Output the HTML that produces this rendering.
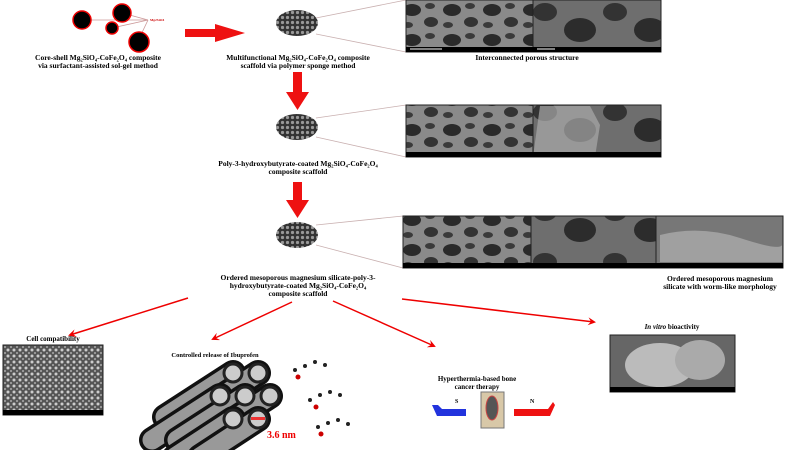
<!DOCTYPE html>
<html><head><meta charset="utf-8"><style>
html,body{margin:0;background:#fff;width:800px;height:450px;overflow:hidden}
svg{display:block}
text{font-family:"Liberation Serif",serif;font-weight:bold;fill:#000}
</style></head><body>
<svg width="800" height="450" viewBox="0 0 800 450" xmlns="http://www.w3.org/2000/svg">
<defs>
<pattern id="sem" width="40" height="30" patternUnits="userSpaceOnUse">
<rect width="40" height="30" fill="#8a8a8a"/>
<ellipse cx="12" cy="10" rx="9" ry="6" fill="#2a2a2a"/>
<ellipse cx="31" cy="22" rx="7" ry="5" fill="#333"/>
<ellipse cx="30" cy="6" rx="5" ry="3" fill="#3a3a3a"/>
<ellipse cx="8" cy="25" rx="5" ry="3" fill="#3a3a3a"/>
</pattern>
<pattern id="sem2" width="70" height="50" patternUnits="userSpaceOnUse">
<rect width="70" height="50" fill="#6e6e6e"/>
<ellipse cx="20" cy="30" rx="16" ry="12" fill="#2c2c2c"/>
<ellipse cx="55" cy="12" rx="12" ry="9" fill="#333"/>
</pattern>
<pattern id="cell" width="6" height="6" patternUnits="userSpaceOnUse">
<rect width="6" height="6" fill="#555"/><circle cx="2" cy="2" r="1.5" fill="#ccc"/><circle cx="5" cy="5" r="1" fill="#aaa"/>
</pattern>
<pattern id="ball" width="5" height="5" patternUnits="userSpaceOnUse">
<rect width="5" height="5" fill="#333"/><circle cx="2.5" cy="2.5" r="1.6" fill="#999"/>
</pattern>
<marker id="ah" markerWidth="8" markerHeight="8" refX="6" refY="4" orient="auto" markerUnits="userSpaceOnUse"><path d="M0,0 L8,4 L0,8 L3,4z" fill="#e00"/></marker>
</defs>

<g stroke="#c99" stroke-width="0.8">
<line x1="82" y1="20" x2="148" y2="20"/><line x1="122" y1="13" x2="148" y2="20"/><line x1="112" y1="28" x2="148" y2="20"/><line x1="138" y1="41" x2="148" y2="20"/>
</g>
<g fill="#000" stroke="#e00" stroke-width="1.5">
<circle cx="82" cy="20" r="9"/><circle cx="122" cy="13" r="9"/><circle cx="112" cy="28" r="6"/><circle cx="139" cy="42" r="10"/>
</g>
<text x="150" y="21" font-size="3.5" style="fill:#c00">Mg2SiO4</text>
<text x="98" y="60" font-size="7.5" text-anchor="middle">Core-shell Mg₂SiO₄-CoFe₂O₄ composite</text>
<text x="98" y="68" font-size="7.5" text-anchor="middle">via surfactant-assisted sol-gel method</text>
<polygon points="185,29 215,29 215,24 245,33 215,42 215,37 185,37" fill="#e11"/>

<g stroke="#c9b0b0" stroke-width="0.8">
<line x1="316" y1="18" x2="406" y2="0"/><line x1="316" y1="34" x2="406" y2="52"/>
<line x1="316" y1="118" x2="406" y2="105"/><line x1="316" y1="137" x2="406" y2="157"/>
<line x1="316" y1="225" x2="403" y2="216"/><line x1="316" y1="245" x2="403" y2="268"/>
</g>
<ellipse cx="297" cy="23" rx="21" ry="13" fill="url(#ball)"/>
<ellipse cx="297" cy="127" rx="21" ry="13" fill="url(#ball)"/>
<ellipse cx="297" cy="235" rx="21" ry="13" fill="url(#ball)"/>
<text x="298" y="60" font-size="7.5" text-anchor="middle">Multifunctional Mg₂SiO₄-CoFe₂O₄ composite</text>
<text x="298" y="68" font-size="7.5" text-anchor="middle">scaffold via polymer sponge method</text>
<polygon points="293,72 302,72 302,92 309,92 297.5,110 286,92 293,92" fill="#e11"/>
<text x="298" y="166" font-size="7.5" text-anchor="middle">Poly-3-hydroxybutyrate-coated Mg₂SiO₄-CoFe₂O₄</text>
<text x="298" y="174" font-size="7.5" text-anchor="middle">composite scaffold</text>
<polygon points="293,182 302,182 302,200 309,200 297.5,218 286,200 293,200" fill="#e11"/>
<text x="298" y="280" font-size="7.5" text-anchor="middle">Ordered mesoporous magnesium silicate-poly-3-</text>
<text x="298" y="288" font-size="7.5" text-anchor="middle">hydroxybutyrate-coated Mg₂SiO₄-CoFe₂O₄</text>
<text x="298" y="296" font-size="7.5" text-anchor="middle">composite scaffold</text>

<rect x="406" y="0" width="127" height="52" fill="url(#sem)" stroke="#222"/>
<rect x="533" y="0" width="128" height="52" fill="url(#sem2)" stroke="#222"/>
<rect x="406" y="47" width="255" height="5" fill="#000"/>
<line x1="410" y1="49" x2="442" y2="49" stroke="#fff"/><line x1="537" y1="49" x2="555" y2="49" stroke="#fff"/>
<text x="527" y="60" font-size="7.5" text-anchor="middle">Interconnected porous structure</text>
<rect x="406" y="105" width="127" height="52" fill="url(#sem)" stroke="#222"/>
<rect x="533" y="105" width="128" height="52" fill="url(#sem2)" stroke="#222"/>
<path d="M540,106 L590,106 L600,125 L595,157 L533,157 Z" fill="#aaa" opacity="0.7"/>
<rect x="406" y="152" width="255" height="5" fill="#000"/>
<rect x="403" y="216" width="128" height="52" fill="url(#sem)" stroke="#222"/>
<rect x="531" y="216" width="125" height="52" fill="url(#sem2)" stroke="#222"/>
<rect x="656" y="216" width="127" height="52" fill="#777" stroke="#222"/>
<path d="M660,235 Q700,225 740,238 T782,245 L782,262 L660,262 Z" fill="#aaa" opacity="0.8"/>
<rect x="403" y="263" width="380" height="5" fill="#000"/>
<text x="720" y="281" font-size="7.5" text-anchor="middle">Ordered mesoporous magnesium</text>
<text x="720" y="289" font-size="7.5" text-anchor="middle">silicate with worm-like morphology</text>

<g stroke="#e00" stroke-width="1.5" marker-end="url(#ah)">
<line x1="188" y1="298" x2="70" y2="335"/>
<line x1="292" y1="302" x2="213" y2="339"/>
<line x1="333" y1="301" x2="434" y2="346"/>
<line x1="402" y1="299" x2="594" y2="322"/>
</g>

<text x="53" y="341" font-size="7" text-anchor="middle">Cell compatibility</text>
<rect x="3" y="345" width="100" height="70" fill="url(#cell)" stroke="#222"/>
<rect x="3" y="410" width="100" height="5" fill="#000"/>

<text x="215" y="357" font-size="6.5" text-anchor="middle">Controlled release of Ibuprofen</text>
<g transform="translate(5,13)">
<g stroke-linecap="round">
<g><line x1="228" y1="360" x2="160" y2="404" stroke="#111" stroke-width="26"/><line x1="228" y1="360" x2="160" y2="404" stroke="#999" stroke-width="19"/></g>
<g><line x1="253" y1="360" x2="185" y2="404" stroke="#111" stroke-width="26"/><line x1="253" y1="360" x2="185" y2="404" stroke="#999" stroke-width="19"/></g>
<g><line x1="215" y1="383" x2="147" y2="427" stroke="#111" stroke-width="26"/><line x1="215" y1="383" x2="147" y2="427" stroke="#999" stroke-width="19"/></g>
<g><line x1="240" y1="383" x2="172" y2="427" stroke="#111" stroke-width="26"/><line x1="240" y1="383" x2="172" y2="427" stroke="#999" stroke-width="19"/></g>
<g><line x1="265" y1="383" x2="197" y2="427" stroke="#111" stroke-width="26"/><line x1="265" y1="383" x2="197" y2="427" stroke="#999" stroke-width="19"/></g>
<g><line x1="228" y1="406" x2="170" y2="444" stroke="#111" stroke-width="26"/><line x1="228" y1="406" x2="170" y2="444" stroke="#999" stroke-width="19"/></g>
<g><line x1="253" y1="406" x2="195" y2="444" stroke="#111" stroke-width="26"/><line x1="253" y1="406" x2="195" y2="444" stroke="#999" stroke-width="19"/></g>
</g>
<g fill="#ccc" stroke="#222" stroke-width="3">
<circle cx="228" cy="360" r="9"/><circle cx="253" cy="360" r="9"/>
<circle cx="215" cy="383" r="9"/><circle cx="240" cy="383" r="9"/><circle cx="265" cy="383" r="9"/>
<circle cx="228" cy="406" r="9"/><circle cx="253" cy="406" r="9"/>
</g>
<rect x="246" y="404" width="14" height="3" fill="#e33"/>
<text x="262" y="425" font-size="10" style="fill:#e00">3.6 nm</text>
</g>
<g fill="#222">
<circle cx="295" cy="370" r="2"/><circle cx="305" cy="366" r="2"/><circle cx="315" cy="362" r="2"/><circle cx="325" cy="365" r="2"/><circle cx="298" cy="377" r="2.5" fill="#c00"/>
<circle cx="310" cy="400" r="2"/><circle cx="320" cy="395" r="2"/><circle cx="330" cy="392" r="2"/><circle cx="340" cy="395" r="2"/><circle cx="316" cy="407" r="2.5" fill="#c00"/>
<circle cx="318" cy="427" r="2"/><circle cx="328" cy="423" r="2"/><circle cx="338" cy="420" r="2"/><circle cx="348" cy="424" r="2"/><circle cx="321" cy="434" r="2.5" fill="#c00"/>
</g>

<text x="477" y="381" font-size="7" text-anchor="middle">Hyperthermia-based bone</text>
<text x="477" y="389" font-size="7" text-anchor="middle">cancer therapy</text>
<path d="M432,405 L437,416 L466,416 L466,409 L442,409 L438,405Z" fill="#2233dd"/>
<text x="455" y="403" font-size="6">S</text>
<rect x="481" y="392" width="23" height="36" fill="#d8c8a8" stroke="#777"/>
<ellipse cx="492" cy="408" rx="6" ry="12" fill="#555" stroke="#c44"/>
<path d="M514,409 L548,409 L553,402 L555,405 L550,416 L514,416Z" fill="#e11"/>
<text x="530" y="403" font-size="6">N</text>

<text x="672" y="329" font-size="7" text-anchor="middle"><tspan font-style="italic">In vitro</tspan> bioactivity</text>
<rect x="610" y="335" width="125" height="57" fill="#666" stroke="#222"/>
<ellipse cx="660" cy="365" rx="35" ry="22" fill="#bbb"/>
<ellipse cx="700" cy="360" rx="25" ry="20" fill="#aaa"/>
<rect x="610" y="387" width="125" height="5" fill="#000"/>
</svg>
</body></html>
